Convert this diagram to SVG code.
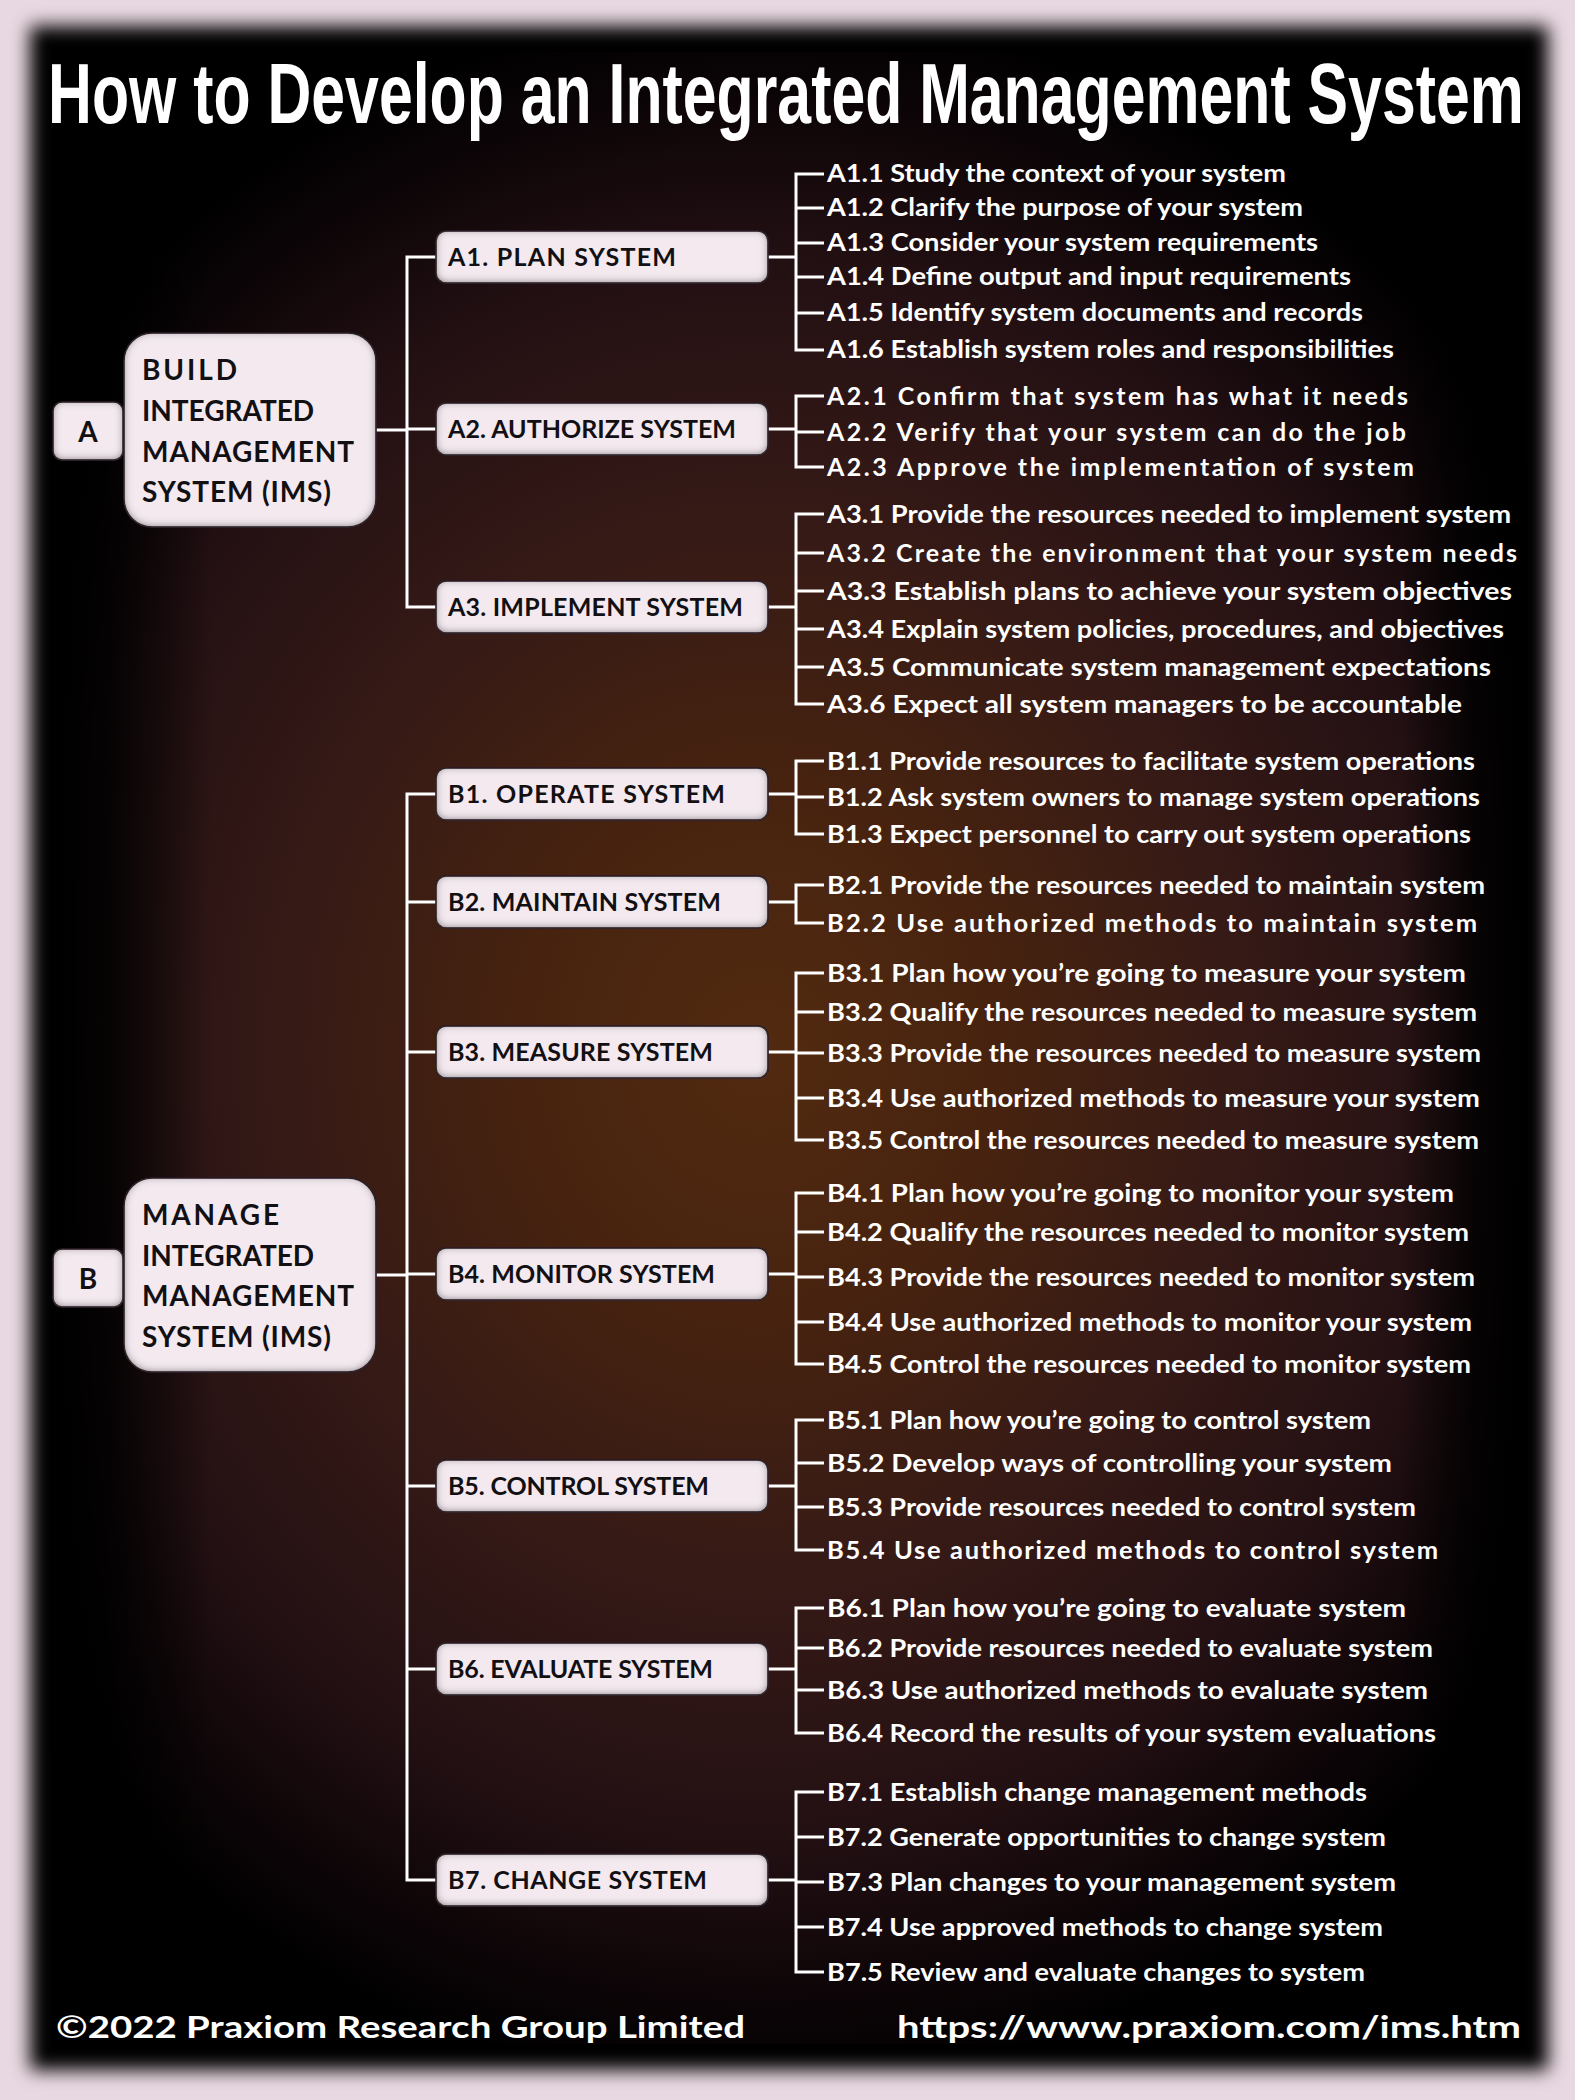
<svg xmlns="http://www.w3.org/2000/svg" width="1575" height="2100" viewBox="0 0 1575 2100">
<defs>
<style>
.t{font-family:Lato,"Open Sans","Liberation Sans",sans-serif;font-weight:700}
.it{font-family:Lato,"Open Sans","Liberation Sans",sans-serif;font-weight:700;fill:#ffffff;font-size:25.5px}
.a1{font-size:24px}
.a{font-size:25px}
.lb{font-family:Lato,"Open Sans","Liberation Sans",sans-serif;font-weight:700;fill:#121012;font-size:25px}
.big{font-family:Lato,"Open Sans","Liberation Sans",sans-serif;font-weight:700;fill:#121012;font-size:28px}
.box{fill:#f3e9ef;stroke:#1c1418;stroke-width:1.5;filter:url(#inset)}
.conn path{stroke:#ffffff;stroke-width:3;fill:none}
</style>
<radialGradient id="bg" gradientUnits="userSpaceOnUse" cx="760" cy="1050" r="1050" gradientTransform="translate(760 1050) scale(0.9 1) translate(-760 -1050)">
<stop offset="0" stop-color="#522a10"/>
<stop offset="0.25" stop-color="#47230f"/>
<stop offset="0.5" stop-color="#361a16"/>
<stop offset="0.75" stop-color="#231013"/>
<stop offset="0.9" stop-color="#0d0507"/>
<stop offset="1" stop-color="#000000"/>
</radialGradient>
<linearGradient id="lfade" x1="0" y1="0" x2="1" y2="0">
<stop offset="0" stop-color="#000" stop-opacity="1"/>
<stop offset="0.35" stop-color="#000" stop-opacity="0.85"/>
<stop offset="1" stop-color="#000" stop-opacity="0"/>
</linearGradient>
<linearGradient id="rfade" x1="1" y1="0" x2="0" y2="0">
<stop offset="0" stop-color="#000" stop-opacity="1"/>
<stop offset="0.4" stop-color="#000" stop-opacity="0.8"/>
<stop offset="1" stop-color="#000" stop-opacity="0"/>
</linearGradient>
<filter id="soft" x="-5%" y="-5%" width="110%" height="110%">
<feGaussianBlur stdDeviation="9"/>
</filter>
<filter id="inset" x="-10%" y="-20%" width="120%" height="140%">
<feComponentTransfer in="SourceAlpha" result="inv"><feFuncA type="table" tableValues="1 0"/></feComponentTransfer>
<feGaussianBlur in="inv" stdDeviation="4" result="blur"/>
<feOffset in="blur" dy="-1.5" result="off"/>
<feFlood flood-color="#3e3238" flood-opacity="1"/>
<feComposite in2="off" operator="in" result="sh"/>
<feComposite in="sh" in2="SourceAlpha" operator="in" result="ish"/>
<feMerge><feMergeNode in="SourceGraphic"/><feMergeNode in="ish"/></feMerge>
</filter>
</defs>

<rect x="0" y="0" width="1575" height="2100" fill="#e8d8e1"/>
<rect x="30" y="26" width="1518" height="2044" fill="#000" filter="url(#soft)"/>
<rect x="52" y="52" width="1474" height="1992" fill="url(#bg)"/>
<rect x="52" y="52" width="160" height="1992" fill="url(#lfade)"/>
<rect x="1400" y="52" width="126" height="1992" fill="url(#rfade)"/>

<g id="title">
<text transform="translate(48 123) scale(0.715 1)" x="0" y="0" font-family="'Liberation Sans',Arial,sans-serif" font-weight="700" font-size="85" fill="#ffffff" textLength="2064" lengthAdjust="spacingAndGlyphs">How to Develop an Integrated Management System</text>
</g>

<g class="conn" id="connectors">
<path d="M376,430 H407 M436,257 H407 V607 H436 M407,429 H436"/>
<path d="M768,257 H796 M824,174 H796 V350 H824 M796,208 H824 M796,243 H824 M796,277 H824 M796,313 H824"/>
<path d="M768,429 H796 M824,396 H796 V467 H824 M796,432 H824"/>
<path d="M768,607 H796 M824,514 H796 V704 H824 M796,553 H824 M796,591 H824 M796,629 H824 M796,667 H824"/>
<path d="M376,1275 H407 M436,794 H407 V1880 H436 M407,902 H436 M407,1052 H436 M407,1274 H436 M407,1486 H436 M407,1669 H436"/>
<path d="M768,794 H796 M824,761 H796 V834 H824 M796,797 H824"/>
<path d="M768,902 H796 M824,885 H796 V923 H824"/>
<path d="M768,1052 H796 M824,973 H796 V1140 H824 M796,1012 H824 M796,1053 H824 M796,1098 H824"/>
<path d="M768,1274 H796 M824,1193 H796 V1364 H824 M796,1232 H824 M796,1277 H824 M796,1322 H824"/>
<path d="M768,1486 H796 M824,1420 H796 V1550 H824 M796,1463 H824 M796,1507 H824"/>
<path d="M768,1669 H796 M824,1608 H796 V1733 H824 M796,1648 H824 M796,1690 H824"/>
<path d="M768,1880 H796 M824,1792 H796 V1972 H824 M796,1837 H824 M796,1882 H824 M796,1927 H824"/>
</g>

<g id="node-A">
<rect class="box" x="53" y="402" width="70" height="58" rx="9"/>
<text class="big" x="88" y="442" text-anchor="middle">A</text>
</g>
<g id="node-A-ims">
<rect class="box" x="124" y="333" width="252" height="194" rx="28"/>
<text class="big" x="142" y="380" textLength="95" lengthAdjust="spacing">BUILD</text>
<text class="big" x="142" y="421" textLength="172" lengthAdjust="spacing">INTEGRATED</text>
<text class="big" x="142" y="462" textLength="212" lengthAdjust="spacing">MANAGEMENT</text>
<text class="big" x="142" y="502" textLength="189" lengthAdjust="spacing">SYSTEM (IMS)</text>
</g>
<g id="node-B">
<rect class="box" x="53" y="1249" width="70" height="58" rx="9"/>
<text class="big" x="88" y="1289" text-anchor="middle">B</text>
</g>
<g id="node-B-ims">
<rect class="box" x="124" y="1178" width="252" height="194" rx="28"/>
<text class="big" x="142" y="1225" textLength="137" lengthAdjust="spacing">MANAGE</text>
<text class="big" x="142" y="1266" textLength="172" lengthAdjust="spacing">INTEGRATED</text>
<text class="big" x="142" y="1306" textLength="212" lengthAdjust="spacing">MANAGEMENT</text>
<text class="big" x="142" y="1347" textLength="189" lengthAdjust="spacing">SYSTEM (IMS)</text>
</g>

<g id="node-A1"><rect class="box" x="436" y="231" width="332" height="52" rx="10"/><text class="lb" x="448" y="266" textLength="228" lengthAdjust="spacing">A1. PLAN SYSTEM</text></g>
<g id="node-A2"><rect class="box" x="436" y="403" width="332" height="52" rx="10"/><text class="lb" x="448" y="438" textLength="288" lengthAdjust="spacing">A2. AUTHORIZE SYSTEM</text></g>
<g id="node-A3"><rect class="box" x="436" y="581" width="332" height="52" rx="10"/><text class="lb" x="448" y="616" textLength="295" lengthAdjust="spacing">A3. IMPLEMENT SYSTEM</text></g>
<g id="node-B1"><rect class="box" x="436" y="768" width="332" height="52" rx="10"/><text class="lb" x="448" y="803" textLength="277" lengthAdjust="spacing">B1. OPERATE SYSTEM</text></g>
<g id="node-B2"><rect class="box" x="436" y="876" width="332" height="52" rx="10"/><text class="lb" x="448" y="911" textLength="273" lengthAdjust="spacing">B2. MAINTAIN SYSTEM</text></g>
<g id="node-B3"><rect class="box" x="436" y="1026" width="332" height="52" rx="10"/><text class="lb" x="448" y="1061" textLength="265" lengthAdjust="spacing">B3. MEASURE SYSTEM</text></g>
<g id="node-B4"><rect class="box" x="436" y="1248" width="332" height="52" rx="10"/><text class="lb" x="448" y="1283" textLength="267" lengthAdjust="spacing">B4. MONITOR SYSTEM</text></g>
<g id="node-B5"><rect class="box" x="436" y="1460" width="332" height="52" rx="10"/><text class="lb" x="448" y="1495" textLength="261" lengthAdjust="spacing">B5. CONTROL SYSTEM</text></g>
<g id="node-B6"><rect class="box" x="436" y="1643" width="332" height="52" rx="10"/><text class="lb" x="448" y="1678" textLength="265" lengthAdjust="spacing">B6. EVALUATE SYSTEM</text></g>
<g id="node-B7"><rect class="box" x="436" y="1854" width="332" height="52" rx="10"/><text class="lb" x="448" y="1889" textLength="259" lengthAdjust="spacing">B7. CHANGE SYSTEM</text></g>

<g id="items-A1">
<g id="A1-1"><text class="it a1" x="827" y="182" textLength="459" lengthAdjust="spacingAndGlyphs">A1.1 Study the context of your system</text></g>
<g id="A1-2"><text class="it a1" x="827" y="216" textLength="476" lengthAdjust="spacingAndGlyphs">A1.2 Clarify the purpose of your system</text></g>
<g id="A1-3"><text class="it a1" x="827" y="251" textLength="491" lengthAdjust="spacingAndGlyphs">A1.3 Consider your system requirements</text></g>
<g id="A1-4"><text class="it a1" x="827" y="285" textLength="524" lengthAdjust="spacingAndGlyphs">A1.4 Define output and input requirements</text></g>
<g id="A1-5"><text class="it a1" x="827" y="321" textLength="536" lengthAdjust="spacingAndGlyphs">A1.5 Identify system documents and records</text></g>
<g id="A1-6"><text class="it a1" x="827" y="358" textLength="567" lengthAdjust="spacingAndGlyphs">A1.6 Establish system roles and responsibilities</text></g>
</g>
<g id="items-A2">
<g id="A2-1"><text class="it a" x="827" y="405" textLength="581" lengthAdjust="spacing">A2.1 Confirm that system has what it needs</text></g>
<g id="A2-2"><text class="it a" x="827" y="441" textLength="579" lengthAdjust="spacing">A2.2 Verify that your system can do the job</text></g>
<g id="A2-3"><text class="it a" x="827" y="476" textLength="587" lengthAdjust="spacing">A2.3 Approve the implementation of system</text></g>
</g>
<g id="items-A3">
<g id="A3-1"><text class="it a" x="827" y="523" textLength="684" lengthAdjust="spacingAndGlyphs">A3.1 Provide the resources needed to implement system</text></g>
<g id="A3-2"><text class="it a" x="827" y="562" textLength="690" lengthAdjust="spacing">A3.2 Create the environment that your system needs</text></g>
<g id="A3-3"><text class="it a" x="827" y="600" textLength="685" lengthAdjust="spacingAndGlyphs">A3.3 Establish plans to achieve your system objectives</text></g>
<g id="A3-4"><text class="it a" x="827" y="638" textLength="677" lengthAdjust="spacingAndGlyphs">A3.4 Explain system policies, procedures, and objectives</text></g>
<g id="A3-5"><text class="it a" x="827" y="676" textLength="664" lengthAdjust="spacingAndGlyphs">A3.5 Communicate system management expectations</text></g>
<g id="A3-6"><text class="it a" x="827" y="713" textLength="635" lengthAdjust="spacingAndGlyphs">A3.6 Expect all system managers to be accountable</text></g>
</g>
<g id="items-B1">
<g id="B1-1"><text class="it" x="827" y="770" textLength="648" lengthAdjust="spacingAndGlyphs">B1.1 Provide resources to facilitate system operations</text></g>
<g id="B1-2"><text class="it" x="827" y="806" textLength="653" lengthAdjust="spacingAndGlyphs">B1.2 Ask system owners to manage system operations</text></g>
<g id="B1-3"><text class="it" x="827" y="843" textLength="644" lengthAdjust="spacingAndGlyphs">B1.3 Expect personnel to carry out system operations</text></g>
</g>
<g id="items-B2">
<g id="B2-1"><text class="it" x="827" y="894" textLength="658" lengthAdjust="spacingAndGlyphs">B2.1 Provide the resources needed to maintain system</text></g>
<g id="B2-2"><text class="it" x="827" y="932" textLength="650" lengthAdjust="spacing">B2.2 Use authorized methods to maintain system</text></g>
</g>
<g id="items-B3">
<g id="B3-1"><text class="it" x="827" y="982" textLength="639" lengthAdjust="spacingAndGlyphs">B3.1 Plan how you’re going to measure your system</text></g>
<g id="B3-2"><text class="it" x="827" y="1021" textLength="650" lengthAdjust="spacingAndGlyphs">B3.2 Qualify the resources needed to measure system</text></g>
<g id="B3-3"><text class="it" x="827" y="1062" textLength="654" lengthAdjust="spacingAndGlyphs">B3.3 Provide the resources needed to measure system</text></g>
<g id="B3-4"><text class="it" x="827" y="1107" textLength="653" lengthAdjust="spacingAndGlyphs">B3.4 Use authorized methods to measure your system</text></g>
<g id="B3-5"><text class="it" x="827" y="1149" textLength="652" lengthAdjust="spacingAndGlyphs">B3.5 Control the resources needed to measure system</text></g>
</g>
<g id="items-B4">
<g id="B4-1"><text class="it" x="827" y="1202" textLength="627" lengthAdjust="spacingAndGlyphs">B4.1 Plan how you’re going to monitor your system</text></g>
<g id="B4-2"><text class="it" x="827" y="1241" textLength="642" lengthAdjust="spacingAndGlyphs">B4.2 Qualify the resources needed to monitor system</text></g>
<g id="B4-3"><text class="it" x="827" y="1286" textLength="648" lengthAdjust="spacingAndGlyphs">B4.3 Provide the resources needed to monitor system</text></g>
<g id="B4-4"><text class="it" x="827" y="1331" textLength="645" lengthAdjust="spacingAndGlyphs">B4.4 Use authorized methods to monitor your system</text></g>
<g id="B4-5"><text class="it" x="827" y="1373" textLength="644" lengthAdjust="spacingAndGlyphs">B4.5 Control the resources needed to monitor system</text></g>
</g>
<g id="items-B5">
<g id="B5-1"><text class="it" x="827" y="1429" textLength="544" lengthAdjust="spacingAndGlyphs">B5.1 Plan how you’re going to control system</text></g>
<g id="B5-2"><text class="it" x="827" y="1472" textLength="565" lengthAdjust="spacingAndGlyphs">B5.2 Develop ways of controlling your system</text></g>
<g id="B5-3"><text class="it" x="827" y="1516" textLength="589" lengthAdjust="spacingAndGlyphs">B5.3 Provide resources needed to control system</text></g>
<g id="B5-4"><text class="it" x="827" y="1559" textLength="611" lengthAdjust="spacing">B5.4 Use authorized methods to control system</text></g>
</g>
<g id="items-B6">
<g id="B6-1"><text class="it" x="827" y="1617" textLength="579" lengthAdjust="spacingAndGlyphs">B6.1 Plan how you’re going to evaluate system</text></g>
<g id="B6-2"><text class="it" x="827" y="1657" textLength="606" lengthAdjust="spacingAndGlyphs">B6.2 Provide resources needed to evaluate system</text></g>
<g id="B6-3"><text class="it" x="827" y="1699" textLength="601" lengthAdjust="spacingAndGlyphs">B6.3 Use authorized methods to evaluate system</text></g>
<g id="B6-4"><text class="it" x="827" y="1742" textLength="609" lengthAdjust="spacingAndGlyphs">B6.4 Record the results of your system evaluations</text></g>
</g>
<g id="items-B7">
<g id="B7-1"><text class="it" x="827" y="1801" textLength="540" lengthAdjust="spacingAndGlyphs">B7.1 Establish change management methods</text></g>
<g id="B7-2"><text class="it" x="827" y="1846" textLength="559" lengthAdjust="spacingAndGlyphs">B7.2 Generate opportunities to change system</text></g>
<g id="B7-3"><text class="it" x="827" y="1891" textLength="569" lengthAdjust="spacingAndGlyphs">B7.3 Plan changes to your management system</text></g>
<g id="B7-4"><text class="it" x="827" y="1936" textLength="556" lengthAdjust="spacingAndGlyphs">B7.4 Use approved methods to change system</text></g>
<g id="B7-5"><text class="it" x="827" y="1981" textLength="538" lengthAdjust="spacingAndGlyphs">B7.5 Review and evaluate changes to system</text></g>
</g>

<g id="footer">
<text class="t" x="56" y="2038" font-size="31" fill="#ffffff" textLength="689" lengthAdjust="spacingAndGlyphs">©2022 Praxiom Research Group Limited</text>
<text class="t" x="897" y="2038" font-size="31" fill="#ffffff" textLength="624" lengthAdjust="spacingAndGlyphs">https://www.praxiom.com/ims.htm</text>
</g>
</svg>
